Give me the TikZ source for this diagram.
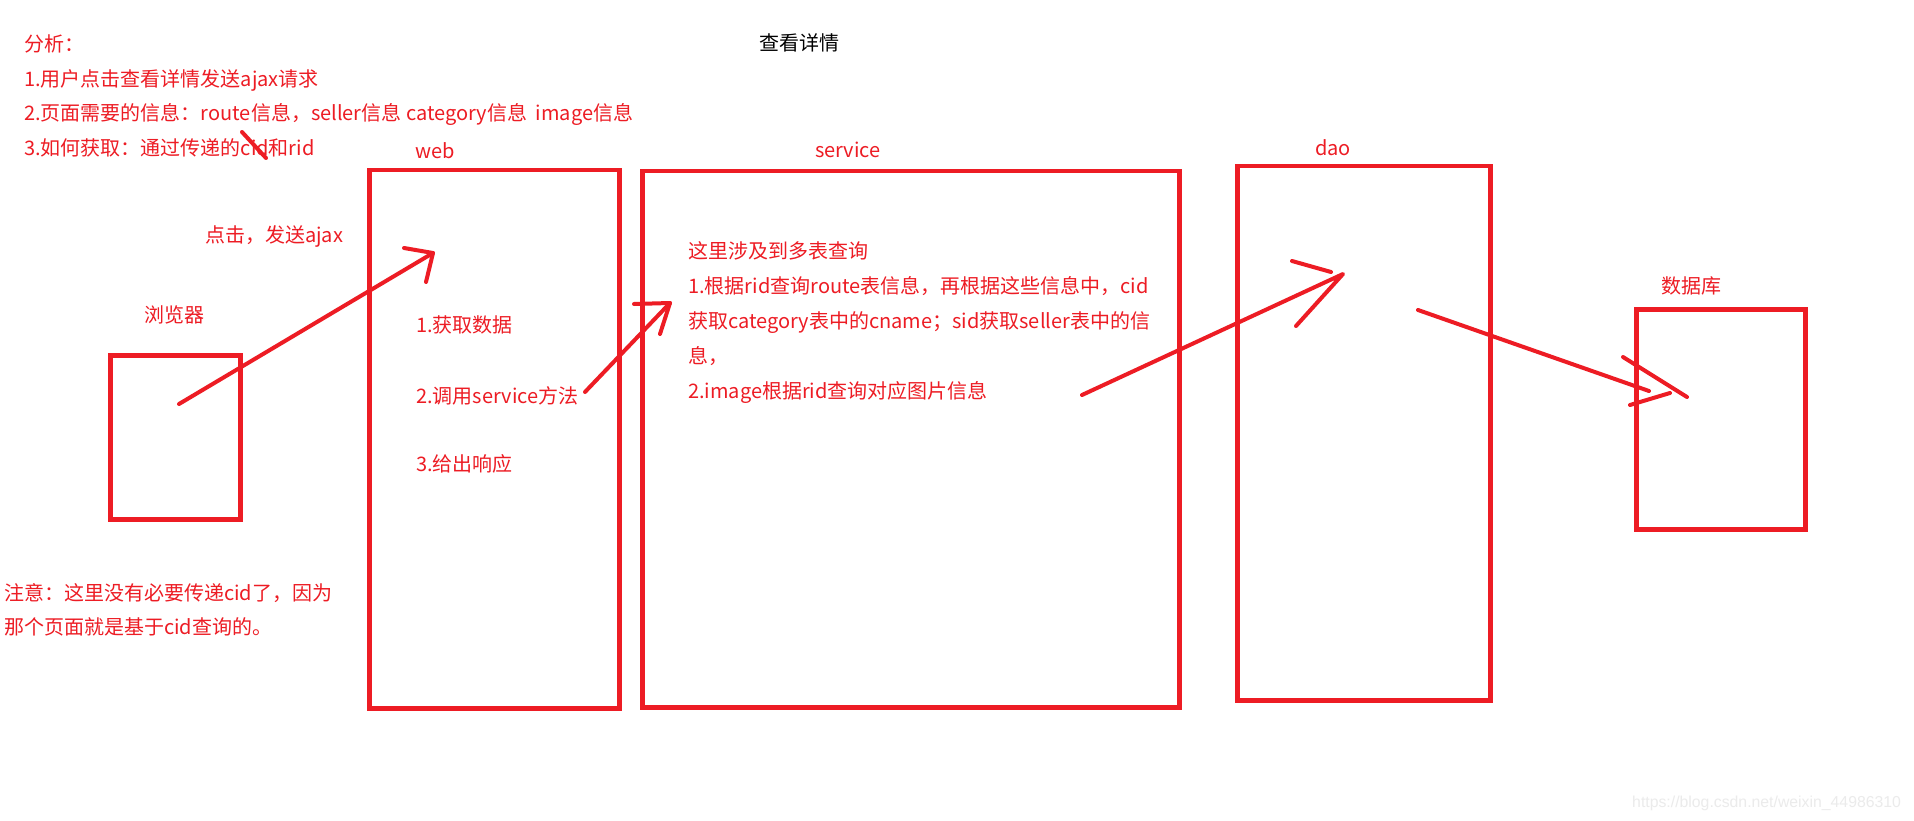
\documentclass[tikz,border=0pt]{standalone}
\usepackage{fontspec}
\newfontfamily\cjk{Noto Sans CJK SC}
\newfontfamily\webfont{Liberation Sans}
\definecolor{paintred}{HTML}{ED1C24}

\begin{document}
\begin{tikzpicture}[
        x=1pt, y=-1pt,
        note/.style={text=paintred, font=\cjk\fontsize{20}{34.5}\selectfont,
            inner sep=0pt, anchor=west, align=left},
        layer/.style={draw=paintred, line width=4.5pt, anchor=north west,
            inner sep=0pt},
        pen/.style={draw=paintred, line width=4pt, line cap=round, line join=round}
    ]
        \useasboundingbox[fill=white] (0,0) rectangle (1914,821);

        % Title and analysis
        \node[note, text=black] (title) at (759,43) {查看详情};
        \node[note, anchor=north west] (analysis) at (24,35)
            {分析：\\1.用户点击查看详情发送ajax请求\\
             2.页面需要的信息：route信息，seller信息 category信息\ \ image信息\\
             3.如何获取：通过传递的cid和rid};

        % Boxes
        \node[layer, minimum width=130pt, minimum height=164pt] (browser) at (108,353) {};
        \node[layer, minimum width=250pt, minimum height=538pt] (web) at (367,168) {};
        \node[layer, minimum width=537pt, minimum height=536pt] (service) at (640,169) {};
        \node[layer, minimum width=253pt, minimum height=534pt] (dao) at (1235,164) {};
        \node[layer, minimum width=169pt, minimum height=220pt] (db) at (1634,307) {};

        % Box labels
        \node[note] (browserlbl) at (144,315) {浏览器};
        \node[note] (weblbl) at (415,151) {web};
        \node[note] (servicelbl) at (815,150) {service};
        \node[note] (daolbl) at (1315,148) {dao};
        \node[note] (dblbl) at (1661,286) {数据库};

        % Texts inside
        \node[note] (click) at (205,236) {点击，发送ajax};
        \node[note] (step1) at (416,325) {1.获取数据};
        \node[note] (step2) at (416,396) {2.调用service方法};
        \node[note] (step3) at (416,464) {3.给出响应};
        \node[note, anchor=north west, font=\cjk\fontsize{20}{35}\selectfont] (query) at (688,241)
            {这里涉及到多表查询\\
             1.根据rid查询route表信息，再根据这些信息中，cid\\
             获取category表中的cname；sid获取seller表中的信\\
             息，\\
             2.image根据rid查询对应图片信息};
        \node[note, anchor=north west, font=\cjk\fontsize{20}{34}\selectfont] (hint) at (4,583)
            {注意：这里没有必要传递cid了，因为\\那个页面就是基于cid查询的。};
        \node[inner sep=0pt, anchor=west, text=black!8, font=\webfont\fontsize{15.8}{18}\selectfont]
            (mark) at (1632,803) {https://blog.csdn.net/weixin\_44986310};

        % Hand-drawn arrows
        \coordinate (a1s) at (179,404);  \coordinate (a1t) at (433,253);
        \coordinate (a2s) at (585,392);  \coordinate (a2t) at (670,303);
        \coordinate (a3s) at (1082,395); \coordinate (a3t) at (1343,274);
        \coordinate (a4s) at (1418,310); \coordinate (a4t) at (1649,391);

        \draw[pen] (a1s) -- (a1t);
        \draw[pen] (404,248) -- (a1t) -- (426,282);
        \draw[pen] (a2s) -- (a2t);
        \draw[pen] (634,304) -- (a2t) -- (660,334);
        \draw[pen] (a3s) -- (a3t) -- (1296,326);
        \draw[pen] (1292,261) -- (1331,272);
        \draw[pen] (a4s) -- (a4t);
        \draw[pen] (1623,357) -- (1687,397);
        \draw[pen] (1630,405) -- (1670,393);

        % Strike over cid
        \draw[pen] (242,132) -- (266,158);

    \end{tikzpicture}
\end{document}
